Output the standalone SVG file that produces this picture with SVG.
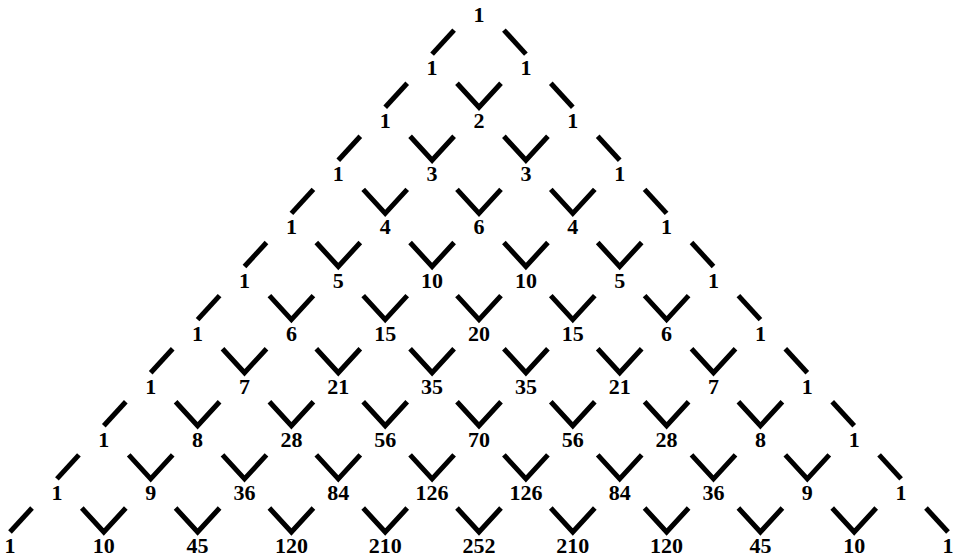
<svg xmlns="http://www.w3.org/2000/svg" width="956" height="559" viewBox="0 0 956 559">
<style>
text{font-family:"Liberation Serif","Times New Roman",serif;font-weight:bold;font-size:22px;fill:#000;text-anchor:middle}
.c path{fill:none;stroke:#000;stroke-width:5;stroke-linecap:butt;stroke-linejoin:miter}
</style>
<rect width="956" height="559" fill="#fff"/>
<g class="c" id="connectors">
<path d="M432.1 54.1 L454.1 30.1"/><path d="M525.9 54.1 L503.9 30.1"/>
<path d="M385.2 107.2 L407.2 83.2"/><path d="M457 83.2 L479 107.2 L501 83.2"/><path d="M572.8 107.2 L550.8 83.2"/>
<path d="M338.3 160.3 L360.3 136.3"/><path d="M410.1 136.3 L432.1 160.3 L454.1 136.3"/><path d="M503.9 136.3 L525.9 160.3 L547.9 136.3"/><path d="M619.7 160.3 L597.7 136.3"/>
<path d="M291.4 213.4 L313.4 189.4"/><path d="M363.2 189.4 L385.2 213.4 L407.2 189.4"/><path d="M457 189.4 L479 213.4 L501 189.4"/><path d="M550.8 189.4 L572.8 213.4 L594.8 189.4"/><path d="M666.6 213.4 L644.6 189.4"/>
<path d="M244.5 266.5 L266.5 242.5"/><path d="M316.3 242.5 L338.3 266.5 L360.3 242.5"/><path d="M410.1 242.5 L432.1 266.5 L454.1 242.5"/><path d="M503.9 242.5 L525.9 266.5 L547.9 242.5"/><path d="M597.7 242.5 L619.7 266.5 L641.7 242.5"/><path d="M713.5 266.5 L691.5 242.5"/>
<path d="M197.6 319.6 L219.6 295.6"/><path d="M269.4 295.6 L291.4 319.6 L313.4 295.6"/><path d="M363.2 295.6 L385.2 319.6 L407.2 295.6"/><path d="M457 295.6 L479 319.6 L501 295.6"/><path d="M550.8 295.6 L572.8 319.6 L594.8 295.6"/><path d="M644.6 295.6 L666.6 319.6 L688.6 295.6"/><path d="M760.4 319.6 L738.4 295.6"/>
<path d="M150.7 372.7 L172.7 348.7"/><path d="M222.5 348.7 L244.5 372.7 L266.5 348.7"/><path d="M316.3 348.7 L338.3 372.7 L360.3 348.7"/><path d="M410.1 348.7 L432.1 372.7 L454.1 348.7"/><path d="M503.9 348.7 L525.9 372.7 L547.9 348.7"/><path d="M597.7 348.7 L619.7 372.7 L641.7 348.7"/><path d="M691.5 348.7 L713.5 372.7 L735.5 348.7"/><path d="M807.3 372.7 L785.3 348.7"/>
<path d="M103.8 425.8 L125.8 401.8"/><path d="M175.6 401.8 L197.6 425.8 L219.6 401.8"/><path d="M269.4 401.8 L291.4 425.8 L313.4 401.8"/><path d="M363.2 401.8 L385.2 425.8 L407.2 401.8"/><path d="M457 401.8 L479 425.8 L501 401.8"/><path d="M550.8 401.8 L572.8 425.8 L594.8 401.8"/><path d="M644.6 401.8 L666.6 425.8 L688.6 401.8"/><path d="M738.4 401.8 L760.4 425.8 L782.4 401.8"/><path d="M854.2 425.8 L832.2 401.8"/>
<path d="M56.9 478.9 L78.9 454.9"/><path d="M128.7 454.9 L150.7 478.9 L172.7 454.9"/><path d="M222.5 454.9 L244.5 478.9 L266.5 454.9"/><path d="M316.3 454.9 L338.3 478.9 L360.3 454.9"/><path d="M410.1 454.9 L432.1 478.9 L454.1 454.9"/><path d="M503.9 454.9 L525.9 478.9 L547.9 454.9"/><path d="M597.7 454.9 L619.7 478.9 L641.7 454.9"/><path d="M691.5 454.9 L713.5 478.9 L735.5 454.9"/><path d="M785.3 454.9 L807.3 478.9 L829.3 454.9"/><path d="M901.1 478.9 L879.1 454.9"/>
<path d="M10 532 L32 508"/><path d="M81.8 508 L103.8 532 L125.8 508"/><path d="M175.6 508 L197.6 532 L219.6 508"/><path d="M269.4 508 L291.4 532 L313.4 508"/><path d="M363.2 508 L385.2 532 L407.2 508"/><path d="M457 508 L479 532 L501 508"/><path d="M550.8 508 L572.8 532 L594.8 508"/><path d="M644.6 508 L666.6 532 L688.6 508"/><path d="M738.4 508 L760.4 532 L782.4 508"/><path d="M832.2 508 L854.2 532 L876.2 508"/><path d="M948 532 L926 508"/>
</g>
<g id="n0_0"><text x="479" y="22">1</text></g>
<g id="n1_0"><text x="432.1" y="75.1">1</text></g>
<g id="n1_1"><text x="525.9" y="75.1">1</text></g>
<g id="n2_0"><text x="385.2" y="128.2">1</text></g>
<g id="n2_1"><text x="479" y="128.2">2</text></g>
<g id="n2_2"><text x="572.8" y="128.2">1</text></g>
<g id="n3_0"><text x="338.3" y="181.3">1</text></g>
<g id="n3_1"><text x="432.1" y="181.3">3</text></g>
<g id="n3_2"><text x="525.9" y="181.3">3</text></g>
<g id="n3_3"><text x="619.7" y="181.3">1</text></g>
<g id="n4_0"><text x="291.4" y="234.4">1</text></g>
<g id="n4_1"><text x="385.2" y="234.4">4</text></g>
<g id="n4_2"><text x="479" y="234.4">6</text></g>
<g id="n4_3"><text x="572.8" y="234.4">4</text></g>
<g id="n4_4"><text x="666.6" y="234.4">1</text></g>
<g id="n5_0"><text x="244.5" y="287.5">1</text></g>
<g id="n5_1"><text x="338.3" y="287.5">5</text></g>
<g id="n5_2"><text x="432.1" y="287.5">10</text></g>
<g id="n5_3"><text x="525.9" y="287.5">10</text></g>
<g id="n5_4"><text x="619.7" y="287.5">5</text></g>
<g id="n5_5"><text x="713.5" y="287.5">1</text></g>
<g id="n6_0"><text x="197.6" y="340.6">1</text></g>
<g id="n6_1"><text x="291.4" y="340.6">6</text></g>
<g id="n6_2"><text x="385.2" y="340.6">15</text></g>
<g id="n6_3"><text x="479" y="340.6">20</text></g>
<g id="n6_4"><text x="572.8" y="340.6">15</text></g>
<g id="n6_5"><text x="666.6" y="340.6">6</text></g>
<g id="n6_6"><text x="760.4" y="340.6">1</text></g>
<g id="n7_0"><text x="150.7" y="393.7">1</text></g>
<g id="n7_1"><text x="244.5" y="393.7">7</text></g>
<g id="n7_2"><text x="338.3" y="393.7">21</text></g>
<g id="n7_3"><text x="432.1" y="393.7">35</text></g>
<g id="n7_4"><text x="525.9" y="393.7">35</text></g>
<g id="n7_5"><text x="619.7" y="393.7">21</text></g>
<g id="n7_6"><text x="713.5" y="393.7">7</text></g>
<g id="n7_7"><text x="807.3" y="393.7">1</text></g>
<g id="n8_0"><text x="103.8" y="446.8">1</text></g>
<g id="n8_1"><text x="197.6" y="446.8">8</text></g>
<g id="n8_2"><text x="291.4" y="446.8">28</text></g>
<g id="n8_3"><text x="385.2" y="446.8">56</text></g>
<g id="n8_4"><text x="479" y="446.8">70</text></g>
<g id="n8_5"><text x="572.8" y="446.8">56</text></g>
<g id="n8_6"><text x="666.6" y="446.8">28</text></g>
<g id="n8_7"><text x="760.4" y="446.8">8</text></g>
<g id="n8_8"><text x="854.2" y="446.8">1</text></g>
<g id="n9_0"><text x="56.9" y="499.9">1</text></g>
<g id="n9_1"><text x="150.7" y="499.9">9</text></g>
<g id="n9_2"><text x="244.5" y="499.9">36</text></g>
<g id="n9_3"><text x="338.3" y="499.9">84</text></g>
<g id="n9_4"><text x="432.1" y="499.9">126</text></g>
<g id="n9_5"><text x="525.9" y="499.9">126</text></g>
<g id="n9_6"><text x="619.7" y="499.9">84</text></g>
<g id="n9_7"><text x="713.5" y="499.9">36</text></g>
<g id="n9_8"><text x="807.3" y="499.9">9</text></g>
<g id="n9_9"><text x="901.1" y="499.9">1</text></g>
<g id="n10_0"><text x="10" y="553">1</text></g>
<g id="n10_1"><text x="103.8" y="553">10</text></g>
<g id="n10_2"><text x="197.6" y="553">45</text></g>
<g id="n10_3"><text x="291.4" y="553">120</text></g>
<g id="n10_4"><text x="385.2" y="553">210</text></g>
<g id="n10_5"><text x="479" y="553">252</text></g>
<g id="n10_6"><text x="572.8" y="553">210</text></g>
<g id="n10_7"><text x="666.6" y="553">120</text></g>
<g id="n10_8"><text x="760.4" y="553">45</text></g>
<g id="n10_9"><text x="854.2" y="553">10</text></g>
<g id="n10_10"><text x="948" y="553">1</text></g>
</svg>
